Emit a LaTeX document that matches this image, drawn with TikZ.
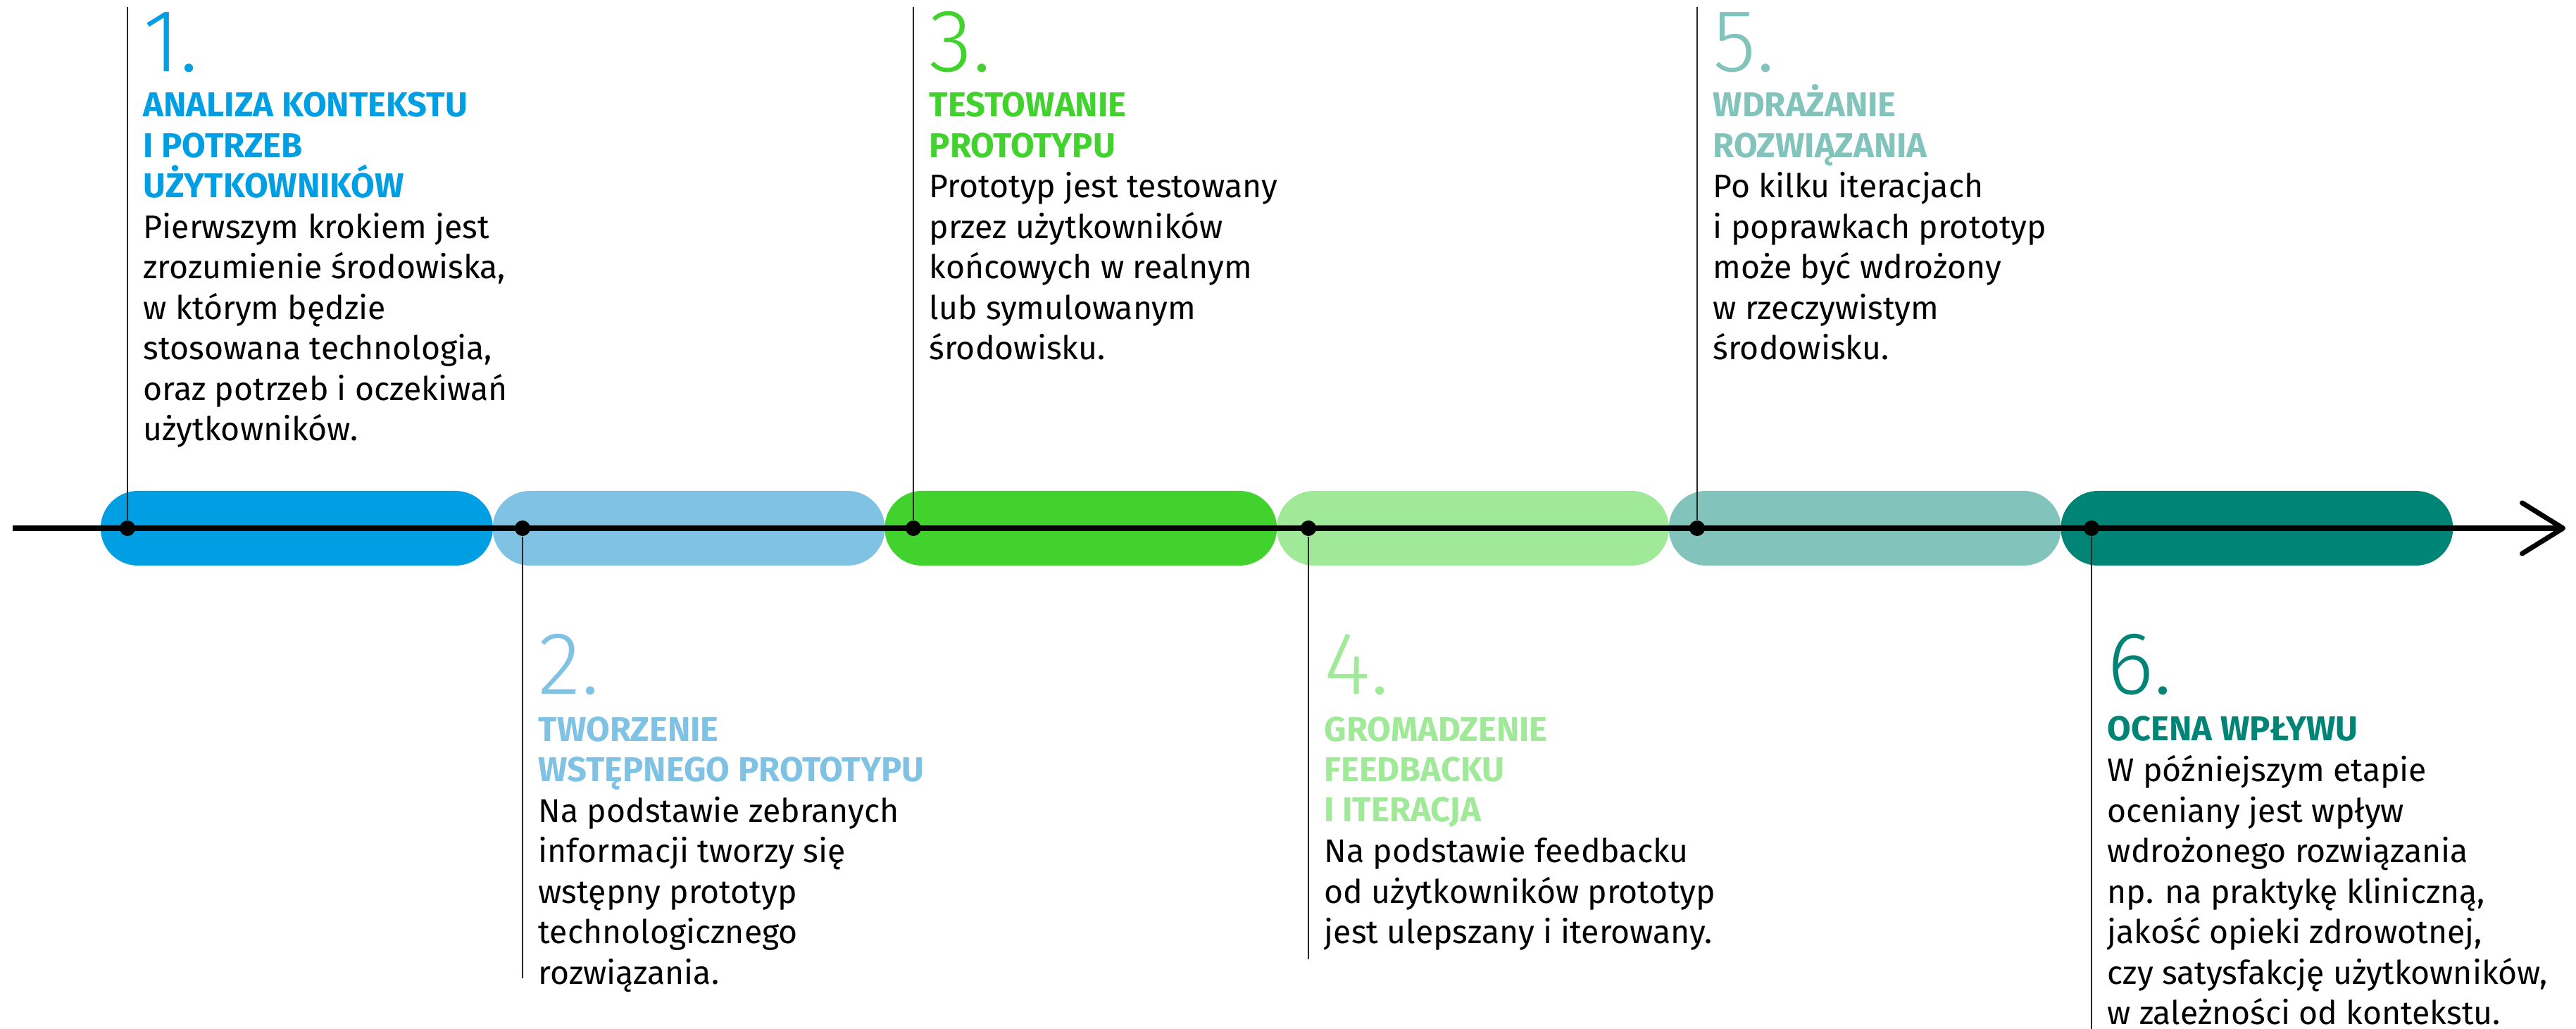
\documentclass[tikz,border=0pt]{standalone}
\usepackage{fontspec}
\setmainfont{Fira Sans}
\newfontfamily\numfont{Fira Sans Light}
\usetikzlibrary{arrows.meta,shapes.misc}
\definecolor{stepA}{RGB}{0,159,227}
\definecolor{stepB}{RGB}{128,194,228}
\definecolor{stepC}{RGB}{66,210,46}
\definecolor{stepD}{RGB}{160,233,152}
\definecolor{stepE}{RGB}{130,196,187}
\definecolor{stepF}{RGB}{0,132,117}
\setlength{\lineskiplimit}{-50pt}
\begin{document}
\begin{tikzpicture}
  [>={Straight Barb[length=5.8mm,width=7.2mm,round]},
   pill/.style={rounded rectangle,minimum width=5.57cm,minimum height=1.06cm,inner sep=0pt},
   dot/.style={circle,fill=black,inner sep=0pt,minimum size=2.2mm},
   stem/.style={black!85,line width=0.6pt},
   num/.style={anchor=base west,inner sep=0pt,font=\numfont\fontsize{35.9}{36}\selectfont},
   ttl/.style={anchor=base west,inner sep=0pt,align=left,font=\bfseries\fontsize{13.9}{16.36}\selectfont},
   txt/.style={anchor=base west,inner sep=0pt,align=left,font=\fontsize{13.2}{16.36}\selectfont},]

\useasboundingbox (0,-7.11) rectangle (36.58,7.5);

% colour bars along the time line
\foreach \i/\c in {1/stepA,2/stepB,3/stepC,4/stepD,5/stepE,6/stepF}
  \node[pill,fill=\c] (p\i) at ({1.43+5.567*(\i-0.5)},0) {};

\coordinate (s) at (0.18,0);
\coordinate (e) at (36.43,0);
\draw[->,line width=2pt] (s) -- (e);

\node[dot] (d1) at (1.81,0) {};
\node[dot] (d2) at (7.42,0) {};
\node[dot] (d3) at (12.97,0) {};
\node[dot] (d4) at (18.58,0) {};
\node[dot] (d5) at (24.10,0) {};
\node[dot] (d6) at (29.70,0) {};

\coordinate (t1) at (1.81,7.40);
\coordinate (t2) at (7.42,-6.39);
\coordinate (t3) at (12.97,7.40);
\coordinate (t4) at (18.58,-6.12);
\coordinate (t5) at (24.10,7.40);
\coordinate (t6) at (29.70,-7.11);
\foreach \i in {1,...,6}
  \draw[stem] (d\i) -- (t\i);

% step 1 (text nodes sit on the baseline of their last line)
\node[num,text=stepA] (n1) at (2.03,6.48) {1.};
\node[ttl,text=stepA] (h1) at (2.03,4.69) {ANALIZA KONTEKSTU\\I POTRZEB\\UŻYTKOWNIKÓW};
\node[txt] (b1) at (2.03,1.24) {Pierwszym krokiem jest\\zrozumienie środowiska,\\w którym będzie\\stosowana technologia,\\oraz potrzeb i oczekiwań\\użytkowników.};

% step 2
\node[num,text=stepB] (n2) at (7.64,-2.36) {2.};
\node[ttl,text=stepB] (h2) at (7.64,-3.595) {TWORZENIE\\WSTĘPNEGO PROTOTYPU};
\node[txt] (b2) at (7.64,-6.47) {Na podstawie zebranych\\informacji tworzy się\\wstępny prototyp\\technologicznego\\rozwiązania.};

% step 3
\node[num,text=stepC] (n3) at (13.19,6.48) {3.};
\node[ttl,text=stepC] (h3) at (13.19,5.265) {TESTOWANIE\\PROTOTYPU};
\node[txt] (b3) at (13.19,2.39) {Prototyp jest testowany\\przez użytkowników\\końcowych w realnym\\lub symulowanym\\środowisku.};

% step 4
\node[num,text=stepD] (n4) at (18.80,-2.36) {4.};
\node[ttl,text=stepD] (h4) at (18.80,-4.17) {GROMADZENIE\\FEEDBACKU\\I ITERACJA};
\node[txt] (b4) at (18.80,-5.895) {Na podstawie feedbacku\\od użytkowników prototyp\\jest ulepszany i iterowany.};

% step 5
\node[num,text=stepE] (n5) at (24.32,6.48) {5.};
\node[ttl,text=stepE] (h5) at (24.32,5.265) {WDRAŻANIE\\ROZWIĄZANIA};
\node[txt] (b5) at (24.32,2.39) {Po kilku iteracjach\\i poprawkach prototyp\\może być wdrożony\\w rzeczywistym\\środowisku.};

% step 6
\node[num,text=stepF] (n6) at (29.92,-2.36) {6.};
\node[ttl,text=stepF] (h6) at (29.92,-3.02) {OCENA WPŁYWU};
\node[txt] (b6) at (29.92,-7.045) {W późniejszym etapie\\oceniany jest wpływ\\wdrożonego rozwiązania\\np. na praktykę kliniczną,\\jakość opieki zdrowotnej,\\czy satysfakcję użytkowników,\\w zależności od kontekstu.};

\end{tikzpicture}
\end{document}
